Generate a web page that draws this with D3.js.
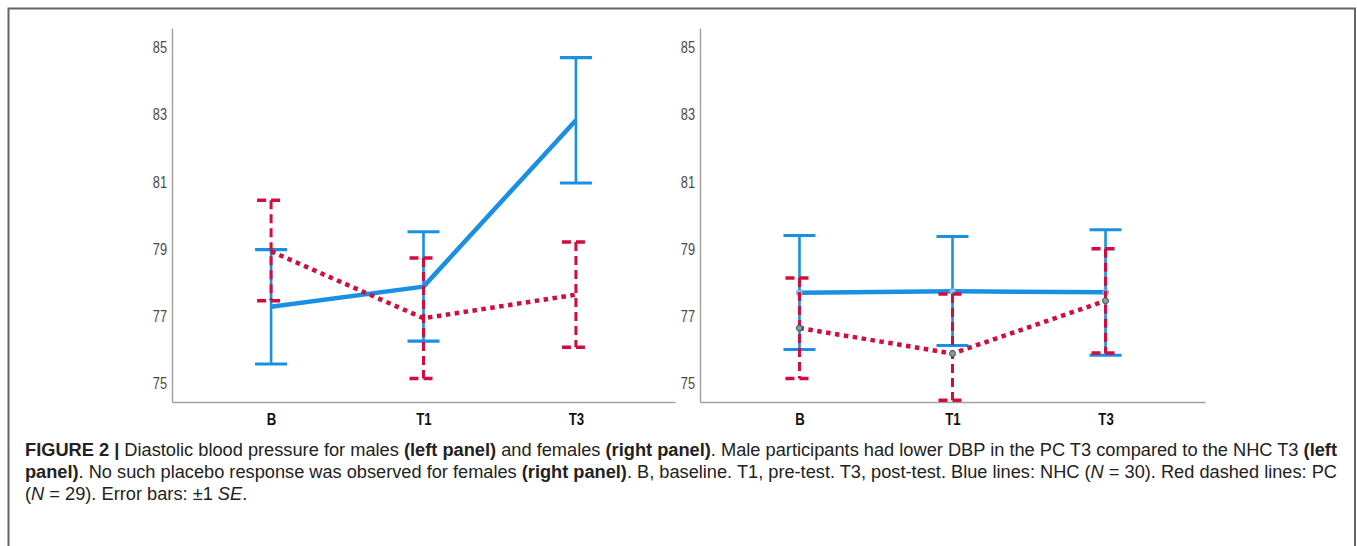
<!DOCTYPE html>
<html><head><meta charset="utf-8">
<script src="https://cdn.jsdelivr.net/npm/d3@7/dist/d3.min.js"></script>
<style>
html,body{margin:0;padding:0;background:#fff;}
svg{display:block;}
</style></head>
<body>
<svg id="chart" width="1357" height="546"></svg>
<script>
// ---- data ----
const categories = ["B", "T1", "T3"];
const yTicks = [75, 77, 79, 81, 83, 85];

// Left panel: males
const maleNHCMean = [77.28, 77.88, 82.83];
const maleNHCLow  = [75.58, 76.26, 80.96];
const maleNHCHigh = [78.98, 79.51, 84.69];
const malePCMean  = [78.93, 76.94, 77.64];
const malePCLow   = [77.46, 75.15, 76.08];
const malePCHigh  = [80.45, 78.73, 79.21];

// Right panel: females
const femaleNHCMean = [77.70, 77.74, 77.71];
const femaleNHCLow  = [76.01, 76.13, 75.84];
const femaleNHCHigh = [79.40, 79.37, 79.57];
const femalePCMean  = [76.65, 75.89, 77.46];
const femalePCLow   = [75.15, 74.50, 75.91];
const femalePCHigh  = [78.14, 77.66, 79.01];

// ---- styles ----
const BLUE = "#1a90e2";
const RED = "#d20c3c";
const AXIS = "#a3a3a3";
const NARROW = "'Liberation Sans Narrow','Arial Narrow','Liberation Sans',Arial,sans-serif";

const svg = d3.select("#chart");

// frame
svg.append("path")
  .attr("d", "M8.5,560V8.5H1355V560")
  .attr("fill", "none").attr("stroke", "#666").attr("stroke-width", 2);

const y = d3.scaleLinear().domain([74.45, 85.57]).range([402, 28]);

function squeeze(sel, ratio) {
  sel.each(function () {
    const w = this.getComputedTextLength();
    d3.select(this).attr("textLength", w * ratio).attr("lengthAdjust", "spacingAndGlyphs");
  });
}

function panel(x0, x1, blue, red, markers) {
  const x = d3.scalePoint().domain(categories).range([x0, x1]).padding(0.65);
  const g = svg.append("g");

  // y axis
  const ya = g.append("g").attr("transform", `translate(${x0},0)`)
    .call(d3.axisLeft(y).tickValues(yTicks).tickSize(0).tickSizeOuter(0).tickPadding(5).tickFormat(d3.format("d")));
  ya.select(".domain").attr("stroke", AXIS).attr("stroke-width", 1.5);
  ya.selectAll("text").attr("font-family", NARROW).attr("font-size", 17).attr("fill", "#4a4a4a");
  squeeze(ya.selectAll("text"), 0.75);

  // x axis
  const xa = g.append("g").attr("transform", `translate(0,402)`)
    .call(d3.axisBottom(x).tickSize(0).tickSizeOuter(0).tickPadding(11));
  xa.select(".domain").attr("stroke", AXIS).attr("stroke-width", 1.5);
  xa.selectAll("text").attr("font-family", NARROW).attr("font-size", 16.5).attr("font-weight", "bold").attr("fill", "#111");
  squeeze(xa.selectAll("text"), 0.8);

  function series(s, color, lineW, lineDash, errW, errDash, capW, mfill, mstroke) {
    const pts = categories.map((c, i) => ({c, m: s.mean[i], lo: s.low[i], hi: s.high[i]}));
    const sg = g.append("g");
    // mean line
    sg.append("path").datum(pts)
      .attr("d", d3.line().x(d => x(d.c)).y(d => y(d.m)))
      .attr("fill", "none").attr("stroke", color).attr("stroke-width", lineW)
      .attr("stroke-dasharray", lineDash).attr("stroke-linejoin", "round");
    // error bars
    const eb = sg.selectAll(".eb").data(pts).enter().append("g");
    eb.append("line").attr("x1", d => x(d.c)).attr("x2", d => x(d.c))
      .attr("y1", d => y(d.hi)).attr("y2", d => y(d.lo))
      .attr("stroke", color).attr("stroke-width", errW).attr("stroke-dasharray", errDash);
    ["hi", "lo"].forEach(k => {
      eb.append("line").attr("x1", d => x(d.c) - capW / 2).attr("x2", d => x(d.c) + capW / 2)
        .attr("y1", d => y(d[k])).attr("y2", d => y(d[k]))
        .attr("stroke", color).attr("stroke-width", errW + 0.5).attr("stroke-dasharray", errDash);
    });
    if (markers) {
      sg.selectAll(".mk").data(pts).enter().append("circle")
        .attr("cx", d => x(d.c)).attr("cy", d => y(d.m)).attr("r", 3)
        .attr("fill", mfill).attr("stroke", mstroke).attr("stroke-width", 1);
    }
  }
  series(blue, BLUE, 4.5, null, 2.6, null, 32, "#8fc9f2", "#4aa3e6");
  series(red, RED, 4.5, "4.5,4.5", 3, "9,5", 28, "#8a9a96", "#2f5a58");
}

panel(172, 675,
  {mean: maleNHCMean, low: maleNHCLow, high: maleNHCHigh},
  {mean: malePCMean, low: malePCLow, high: malePCHigh}, false);
panel(700, 1205,
  {mean: femaleNHCMean, low: femaleNHCLow, high: femaleNHCHigh},
  {mean: femalePCMean, low: femalePCLow, high: femalePCHigh}, true);

// ---- caption ----
const captionLines = [
  [["FIGURE 2 | ", "b"], ["Diastolic blood pressure for males ", ""], ["(left panel)", "b"], [" and females ", ""], ["(right panel)", "b"], [". Male participants had lower DBP in the PC T3 compared to the NHC T3 ", ""], ["(left", "b"]],
  [["panel)", "b"], [". No such placebo response was observed for females ", ""], ["(right panel)", "b"], [". B, baseline. T1, pre-test. T3, post-test. Blue lines: NHC (", ""], ["N", "i"], [" = 30). Red dashed lines: PC", ""]],
  [["(", ""], ["N", "i"], [" = 29). Error bars: \u00b11 ", ""], ["SE", "i"], [".", ""]]
];
const capBase = [456, 478, 500];
const cap = svg.append("g").attr("font-family", NARROW).attr("font-size", 17.5).attr("fill", "#222");
const texts = captionLines.map((parts, i) => {
  const t = cap.append("text").attr("x", 25).attr("y", capBase[i]);
  parts.forEach(([s, st]) => {
    const sp = t.append("tspan").text(s);
    if (st === "b") sp.attr("font-weight", "bold");
    if (st === "i") sp.attr("font-style", "italic");
  });
  return t;
});
const target = 1312;
const w0 = texts[0].node().getComputedTextLength();
const ratio = target / w0;
texts[0].attr("textLength", target).attr("lengthAdjust", "spacingAndGlyphs");
texts[1].attr("textLength", target).attr("lengthAdjust", "spacingAndGlyphs");
const w2 = texts[2].node().getComputedTextLength();
texts[2].attr("textLength", w2 * ratio).attr("lengthAdjust", "spacingAndGlyphs");
</script>
</body></html>
